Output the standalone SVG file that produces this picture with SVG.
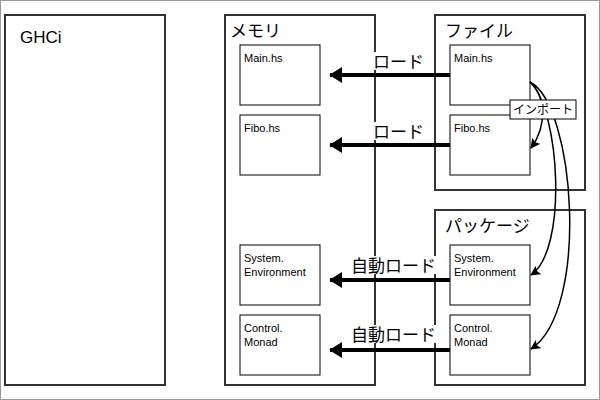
<svg xmlns="http://www.w3.org/2000/svg" width="600" height="400" viewBox="0 0 600 400">
<style>
.c{fill:#fff;stroke:#333;stroke-width:2}
.n{fill:#fff;stroke:#000;stroke-width:1}
.t{font-family:"Liberation Sans","Noto Sans CJK JP",sans-serif;font-size:11px;fill:#000}
.h{font-family:"Liberation Sans","Noto Sans CJK JP",sans-serif;font-size:17px;fill:#000}
.ld{fill:none;stroke:#000;stroke-width:4}
.im{fill:none;stroke:#000;stroke-width:1.5}
</style>
<defs>
<marker id="a" markerWidth="4" markerHeight="4" refX="3" refY="2" orient="auto" markerUnits="strokeWidth"><path d="M0,0L3.2,2L0,4Z"/></marker>
<marker id="b" markerWidth="10" markerHeight="10" refX="9" refY="5" orient="auto" markerUnits="userSpaceOnUse"><path d="M0,0L10,5L0,10L2,5Z"/></marker>
</defs>
<rect x="0.5" y="0.5" width="599" height="399" fill="#fff" stroke="#999"/>
<g id="ghci"><rect class="c" x="5" y="15" width="160" height="370"/><text class="h" x="20" y="43">GHCi</text></g>
<g id="memory"><rect class="c" x="225" y="15" width="150" height="370"/><text class="h" x="230" y="37">メモリ</text></g>
<g id="files"><rect class="c" x="435" y="15" width="150" height="175"/><text class="h" x="445" y="37">ファイル</text></g>
<g id="packages"><rect class="c" x="435" y="210" width="150" height="175"/><text class="h" x="445" y="232">パッケージ</text></g>
<g id="m-main"><rect class="n" x="240" y="45" width="80" height="60"/><text class="t" x="244" y="62">Main.hs</text></g>
<g id="m-fibo"><rect class="n" x="240" y="115" width="80" height="60"/><text class="t" x="244" y="132">Fibo.hs</text></g>
<g id="m-sys"><rect class="n" x="240" y="245" width="80" height="60"/><text class="t" x="244" y="262">System.</text><text class="t" x="244" y="276">Environment</text></g>
<g id="m-ctl"><rect class="n" x="240" y="315" width="80" height="60"/><text class="t" x="244" y="332">Control.</text><text class="t" x="244" y="346">Monad</text></g>
<g id="f-main"><rect class="n" x="450" y="45" width="80" height="60"/><text class="t" x="454" y="62">Main.hs</text></g>
<g id="f-fibo"><rect class="n" x="450" y="115" width="80" height="60"/><text class="t" x="454" y="132">Fibo.hs</text></g>
<g id="p-sys"><rect class="n" x="450" y="245" width="80" height="60"/><text class="t" x="454" y="262">System.</text><text class="t" x="454" y="276">Environment</text></g>
<g id="p-ctl"><rect class="n" x="450" y="315" width="80" height="60"/><text class="t" x="454" y="332">Control.</text><text class="t" x="454" y="346">Monad</text></g>
<g id="connectors">
<line class="ld" x1="450" y1="75" x2="330" y2="75" marker-end="url(#a)"/>
<line class="ld" x1="450" y1="145" x2="330" y2="145" marker-end="url(#a)"/>
<line class="ld" x1="450" y1="280" x2="330" y2="280" marker-end="url(#a)"/>
<line class="ld" x1="450" y1="350" x2="330" y2="350" marker-end="url(#a)"/>
<rect x="371" y="52" width="56" height="18" fill="#fff"/><text class="h" x="373" y="68">ロード</text>
<rect x="371" y="122" width="56" height="18" fill="#fff"/><text class="h" x="373" y="138">ロード</text>
<rect x="350" y="256" width="90" height="18" fill="#fff"/><text class="h" x="351" y="272">自動ロード</text>
<rect x="350" y="325" width="90" height="18" fill="#fff"/><text class="h" x="351" y="341">自動ロード</text>
<path class="im" d="M530,82 C545,95 548,125 531,148" marker-end="url(#b)"/>
<path class="im" d="M530,82 C560,110 568,250 531,275" marker-end="url(#b)"/>
<path class="im" d="M530,82 C575,105 590,310 531,349" marker-end="url(#b)"/>
<rect x="510" y="100" width="66" height="19" fill="#fff" stroke="#000"/>
<text class="t" x="513" y="114" style="font-size:12px">インポート</text>
</g>
</svg>
